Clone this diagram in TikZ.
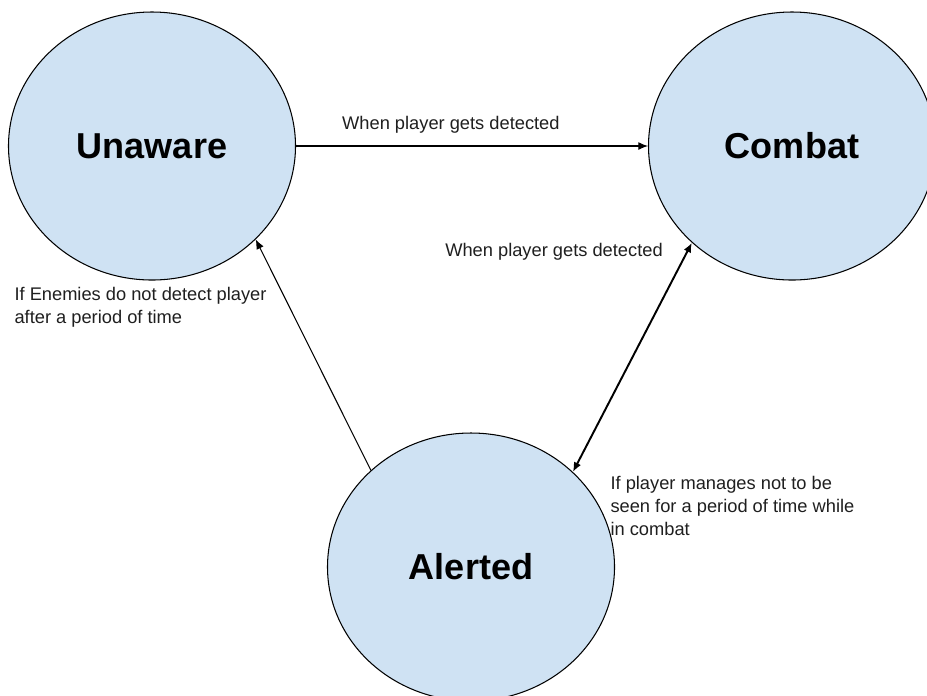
\documentclass[tikz,border=0pt]{standalone}
\usepackage{fontspec}
\setmainfont{Liberation Sans}
\usetikzlibrary{shapes.geometric,arrows.meta}
\definecolor{statefill}{HTML}{CFE2F3}

\begin{document}
\begin{tikzpicture}[>={Latex[length=5.5pt,width=4.5pt]},->,line width=0.6pt,
  state/.style={draw,shape=ellipse,fill=statefill,minimum width=5.74cm,minimum height=5.36cm,font=\fontsize{20.5}{24}\selectfont\bfseries},
  note/.style={font=\fontsize{10.4}{13}\selectfont,text=black!88,inner sep=0pt}]

\useasboundingbox (0,0) rectangle (18.54,-13.9);

\node[state] (U) at (3.04,-2.92) {Unaware};
\node[state] (C) at (15.84,-2.92) {Combat};
\node[state] (A) at (9.42,-11.34) {Alerted};

\path (U.east) edge node[note,above=0.25cm,pos=0.44] (det1) {When player gets detected} (C.west);
\path (A.136) edge (U.-42);
\path (A.43) edge [<->,line width=1.1pt] (C.224);

\node[note] (det2) at (11.08,-5.04) {When player gets detected};
\node[note,anchor=north west,align=left] (lost) at (0.28,-5.74) {If Enemies do not detect player\\after a period of time};
\node[note,anchor=north west,align=left] (hide) at (12.2,-9.52) {If player manages not to be\\seen for a period of time while\\in combat};
\end{tikzpicture}
\end{document}
